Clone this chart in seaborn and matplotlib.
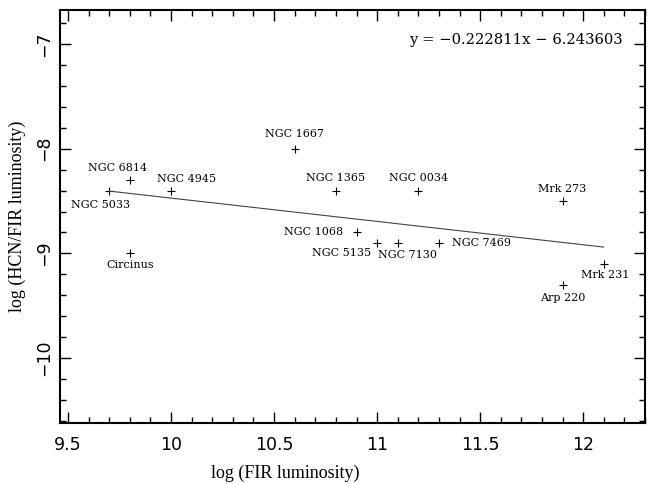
import matplotlib
matplotlib.use("Agg")
import matplotlib.pyplot as plt
from matplotlib.ticker import MultipleLocator
import seaborn as sns
import pandas as pd
import numpy as np

names = ["NGC 5033", "NGC 6814", "NGC 4945", "Circinus", "NGC 1667", "NGC 1365",
         "NGC 0034", "NGC 1068", "NGC 5135", "NGC 7130", "NGC 7469", "Mrk 273",
         "Mrk 231", "Arp 220"]
log_fir = [9.7, 9.8, 10.0, 9.8, 10.6, 10.8, 11.2, 10.9, 11.0, 11.1, 11.3, 11.9, 12.1, 11.9]
log_ratio = [-8.4, -8.3, -8.4, -9.0, -8.0, -8.4, -8.4, -8.8, -8.9, -8.9, -8.9, -8.5, -9.1, -9.3]
slope = -0.222811
intercept = -6.243603
fit_x = [9.7, 12.1]

# label offsets in pixels (dx, dy, ha)
label_pos = {
    "NGC 5033": (-9, -14, "center"),
    "NGC 6814": (-12, 12, "center"),
    "NGC 4945": (15, 12, "center"),
    "Circinus": (0, -12, "center"),
    "NGC 1667": (0, 15, "center"),
    "NGC 1365": (0, 13, "center"),
    "NGC 0034": (0, 13, "center"),
    "NGC 1068": (-13, 0, "right"),
    "NGC 5135": (-6, -10, "right"),
    "NGC 7130": (10, -12, "center"),
    "NGC 7469": (13, 0, "left"),
    "Mrk 273": (0, 12, "center"),
    "Mrk 231": (1, -11, "center"),
    "Arp 220": (0, -13, "center"),
}

sns.set_theme(style="ticks")
plt.rcParams["font.family"] = ["DejaVu Serif", "DejaVu Sans"]

df = pd.DataFrame({"x": log_fir, "y": log_ratio, "name": names})
fit_df = pd.DataFrame({"x": fit_x, "y": [slope * v + intercept for v in fit_x]})

fig = plt.figure(figsize=(6.52, 4.84), dpi=100)
ax = fig.add_axes([60 / 652, 1 - 423 / 484, 585 / 652, 413 / 484])

sns.lineplot(data=fit_df, x="x", y="y", ax=ax, color="#444444", linewidth=0.8)
sns.scatterplot(data=df, x="x", y="y", ax=ax, marker="+", color="black",
                s=30, linewidth=0.8)

px = 0.72
for n, xv, yv in zip(names, log_fir, log_ratio):
    dx, dy, ha = label_pos[n]
    ax.annotate(n, (xv, yv), xytext=(dx * px, dy * px), textcoords="offset points",
                ha=ha, va="center", fontsize=8, fontweight="medium", color="black",
                family=["DejaVu Serif"])

ax.text((623 - 60) / 585, 1 - (40 - 10) / 413, "y = \u22120.222811x \u2212 6.243603",
        transform=ax.transAxes, ha="right", va="center", fontsize=10.6, color="black",
        family=["DejaVu Serif"])

ax.set_xlim(9.461, 12.30)
ax.set_ylim(-10.62, -6.675)
ax.xaxis.set_minor_locator(MultipleLocator(0.1))
ax.yaxis.set_minor_locator(MultipleLocator(0.2))
ax.set_xticks([9.5, 10, 10.5, 11, 11.5, 12])
ax.set_xticklabels(["9.5", "10", "10.5", "11", "11.5", "12"])
ax.set_yticks([-10, -9, -8, -7])
ax.set_yticklabels(["\u221210", "\u22129", "\u22128", "\u22127"], rotation=90, va="center")

ax.tick_params(which="both", direction="in", top=True, right=True, color="black",
               labelsize=12.5, labelcolor="black")
ax.tick_params(which="major", length=8, width=1)
ax.tick_params(which="minor", length=4, width=1)
ax.tick_params(axis="x", pad=9)
ax.tick_params(axis="y", pad=5)
for lab in ax.get_xticklabels() + ax.get_yticklabels():
    lab.set_family(["DejaVu Sans"])
for s in ax.spines.values():
    s.set_visible(True)
    s.set_linewidth(1.5)
    s.set_color("black")

xl = ax.set_xlabel("log (FIR luminosity)", fontsize=13, color="black",
                   family=["Liberation Serif"])
yl = ax.set_ylabel("log (HCN/FIR luminosity)", fontsize=13, color="black",
                   family=["Liberation Serif"])
ax.xaxis.set_label_coords((285 - 60) / 585, -(473 - 423) / 413)
ax.yaxis.set_label_coords(-(60 - 17) / 585, 0.5)
xl.set_va("center")
yl.set_va("center")

fig.savefig("out.png", dpi=100)
